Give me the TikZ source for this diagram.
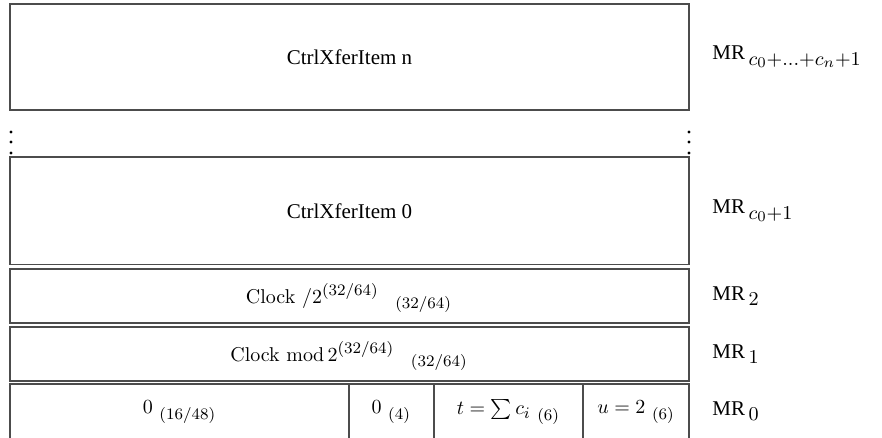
\documentclass[tikz,border=0pt]{standalone}
\usepackage{fix-cm}
\usepackage{fontspec}
\newfontfamily\tms{Liberation Serif}
% larger scripts for the field widths and register indices
\DeclareMathSizes{10}{10}{8}{6}
\DeclareMathSizes{10.5}{10.5}{9.8}{7.4}
\begin{document}
\begin{tikzpicture}[x=0.5pt,y=-0.5pt,
  frame/.style={draw=black!70, line width=0.75pt},
  cellbox/.style={frame, rectangle, inner sep=0pt},
  lbl/.style={anchor=west, inner sep=0pt, font=\fontsize{10.5}{12}\tms},
  vdot/.style={fill=black, inner sep=0pt, minimum size=1.6pt, circle}]
\useasboundingbox (0,0) rectangle (882,438);

% register rows, one box per memory register
\node[cellbox, minimum width=339.5pt, minimum height=53pt, font=\fontsize{10.5}{12}\tms]
  (itemn) at (349.5,57) {CtrlXferItem n};
\node[cellbox, minimum width=339.5pt, minimum height=53.5pt, font=\fontsize{10.5}{12}\tms]
  (item0) at (349.5,210.75) {CtrlXferItem 0};
\node[cellbox, minimum width=339.5pt, minimum height=27pt]
  (div) at (349.5,296) {};
\node[cellbox, minimum width=339.5pt, minimum height=27pt]
  (mod) at (349.5,354) {};
\node at (349,298) {Clock $/2^{(32/64)}$\hspace{5pt} $_{(32/64)}$};
\node at (349,356) {Clock $\mathrm{mod}\mkern3mu 2^{(32/64)}$\hspace{5pt} $_{(32/64)}$};

% field row of MR 0, open at the lower edge
\begin{scope}
\clip (0,0) rectangle (882,438);
\node[cellbox, minimum width=169.5pt, minimum height=30pt] (f0) at (179.5,414) {};
\node[cellbox, minimum width=42.5pt, minimum height=30pt] (f1) at (391.25,414) {};
\node[cellbox, minimum width=74.5pt, minimum height=30pt] (f2) at (508.5,414) {};
\node[cellbox, minimum width=53pt, minimum height=30pt] (f3) at (636,414) {};
\end{scope}
\node at (179.5,412) {$0$ $_{(16/48)}$};
\node at (391.25,412) {$0$ $_{(4)}$};
\node at (508.5,412) {$t=\sum c_i$ $_{(6)}$};
\node at (636,412) {$u=2$ $_{(6)}$};

% elided registers between item n and item 0
\foreach \yy [count=\k] in {132,142,153} {
  \node[vdot] (ld\k) at (11,\yy) {};
  \node[vdot] (rd\k) at (689,\yy) {};
}

% register names
\node[lbl] (mrn) at (712,57) {MR$\,_{c_0+\ldots+c_n+1}$};
\node[lbl] (mr0p) at (712,211) {MR$\,_{c_0+1}$};
\node[lbl] (mr2) at (712,296) {MR$\,_{2}$};
\node[lbl] (mr1) at (712,354) {MR$\,_{1}$};
\node[lbl] (mr0) at (712,411) {MR$\,_{0}$};
\end{tikzpicture}
\end{document}
